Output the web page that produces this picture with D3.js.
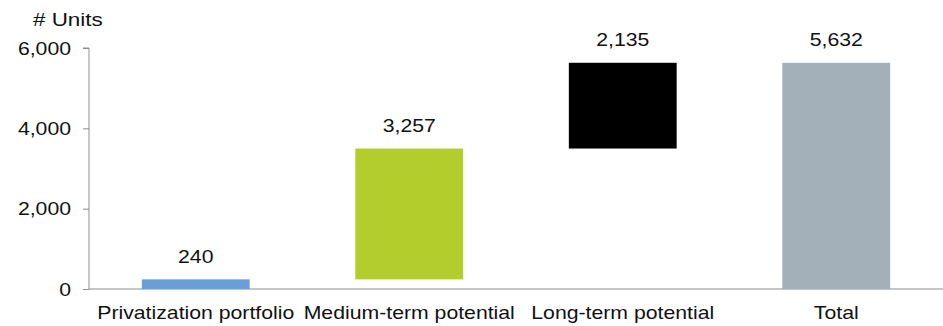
<!DOCTYPE html>
<html>
<head>
<meta charset="utf-8">
<script src="https://cdn.jsdelivr.net/npm/d3@7"></script>
<style>
  body { margin: 0; background: #fff; }
  text { font-family: "Liberation Sans", Arial, sans-serif; fill: #111; }
</style>
</head>
<body>
<div id="chart"></div>
<script>
// waterfall data
const categories = ['Privatization portfolio', 'Medium-term potential', 'Long-term potential', 'Total'];
const values = [240, 3257, 2135, 5632];
const isTotal = [false, false, false, true];
const colors = ['#6a9ed6', '#b2cd2c', '#000000', '#a4b0b9'];
const yTicks = [0, 2000, 4000, 6000];

const W = 943, H = 326;
const margin = {top: 48, right: 0, bottom: 37, left: 89};
const xs = 1.18; // horizontal stretch of the text in the original

const svg = d3.select('#chart').append('svg')
    .attr('width', W).attr('height', H);

const x = d3.scaleBand().domain(categories)
    .range([margin.left, W - margin.right])
    .paddingInner(0.495).paddingOuter(0.2475);
const y = d3.scaleLinear().domain([0, 6000]).range([H - margin.bottom, margin.top]);

// running totals for the floating bars
let run = 0;
const bars = categories.map((c, i) => {
    let lo, hi;
    if (isTotal[i]) { lo = 0; hi = values[i]; }
    else { lo = run; hi = run + values[i]; run = hi; }
    return {cat: c, lo, hi, value: values[i], color: colors[i]};
});

function label(x0, y0, txt, anchor, size) {
    svg.append('text')
        .attr('transform', `translate(${x0},${y0}) scale(${xs},1)`)
        .attr('text-anchor', anchor)
        .style('font-size', size + 'px')
        .text(txt);
}

// y axis
const yAxis = svg.append('g')
    .attr('transform', `translate(${margin.left},0)`)
    .call(d3.axisLeft(y).tickValues(yTicks).tickSize(6).tickFormat(''));
yAxis.selectAll('path, line').attr('stroke', '#8c8c8c');
yAxis.select('.domain').attr('d', `M-6,${y(6000)}H0V${y(0)}`);
yTicks.forEach(t => label(71, y(t) + 6.5, d3.format(',')(t), 'end', 18));

// x axis line
svg.append('line')
    .attr('x1', margin.left).attr('x2', W)
    .attr('y1', y(0)).attr('y2', y(0))
    .attr('stroke', '#8c8c8c');

// bars
svg.selectAll('rect.bar').data(bars).enter().append('rect')
    .attr('class', 'bar')
    .attr('x', d => x(d.cat))
    .attr('width', x.bandwidth())
    .attr('y', d => y(d.hi))
    .attr('height', d => y(d.lo) - y(d.hi))
    .attr('fill', d => d.color);

// value labels
bars.forEach(d => label(x(d.cat) + x.bandwidth() / 2, y(d.hi) - 16.5, d3.format(',')(d.value), 'middle', 18));

// category labels
categories.forEach(c => label(x(c) + x.bandwidth() / 2, 319, c, 'middle', 18));

// unit title
label(33, 26, '# Units', 'start', 19);
</script>
</body>
</html>
